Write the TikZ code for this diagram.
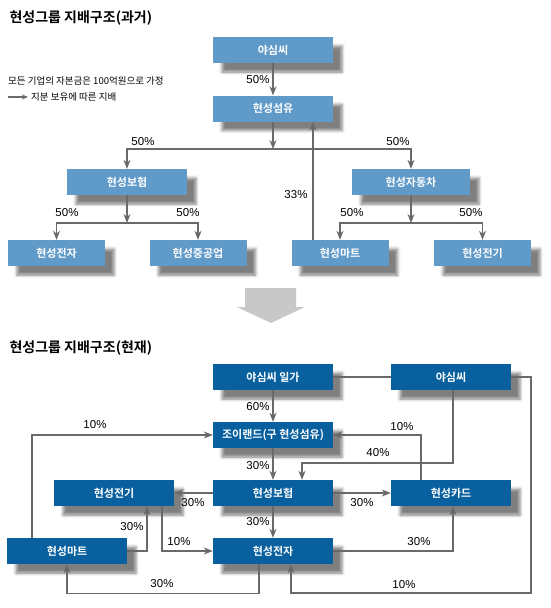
\documentclass[tikz,border=0pt]{standalone}
\usepackage{fontspec}
\setmainfont{Noto Sans CJK KR}[BoldFont={Noto Sans CJK KR Bold}]
\newfontfamily\numfont{Liberation Sans}
\usepackage{tikz}
\usetikzlibrary{arrows.meta, calc, positioning, shadows.blur}
\definecolor{oldblue}{RGB}{96,154,201}
\definecolor{newblue}{RGB}{8,96,158}
\definecolor{linegray}{RGB}{105,105,105}
\definecolor{bigarrowgray}{RGB}{200,200,200}

\begin{document}
\begin{tikzpicture}[x=1pt, y=-1pt,
    box/.style={rectangle, minimum height=26pt, inner sep=0pt, text=white,
        font=\bfseries\fontsize{11}{13}\selectfont,
        blur shadow={shadow xshift=9pt, shadow yshift=-9pt, shadow blur radius=3pt, shadow opacity=50}},
    oldbox/.style={box, fill=oldblue},
    newbox/.style={box, fill=newblue, minimum width=120pt},
    arr/.style={draw=linegray, line width=1.2pt, -{Stealth[length=9pt, width=7pt]}},
    con/.style={draw=linegray, line width=1.2pt},
    pct/.style={font=\numfont\fontsize{11.5}{13}\selectfont, inner sep=0pt}]
    \useasboundingbox (0,0) rectangle (550,608);

    % 标题 (过去)
    \node[anchor=west, font=\bfseries\fontsize{14}{16}\selectfont] (t1) at (6,18) {현성그룹 지배구조(과거)};

    % 说明
    \node[anchor=west, inner sep=0pt, font=\fontsize{9.5}{11}\selectfont] (n1) at (8,81) {모든 기업의 자본금은 100억원으로 가정};
    \coordinate (lg1) at (8,97);
    \coordinate (lg2) at (28,97);
    \draw[arr, -{Stealth[length=6pt, width=5pt]}] (lg1) -- (lg2);
    \node[anchor=west, inner sep=0pt, font=\fontsize{9.5}{11}\selectfont] (n2) at (31,97) {지분 보유에 따른 지배};

    % 过去的公司
    \node[oldbox, minimum width=120pt] (ys) at (273,50) {야심씨};
    \node[oldbox, minimum width=120pt] (hs) at (273,108.5) {현성섬유};
    \node[oldbox, minimum width=120pt] (hb) at (127,182) {현성보험};
    \node[oldbox, minimum width=118pt] (ha) at (411,182) {현성자동차};
    \node[oldbox, minimum width=97pt] (he) at (56.5,253) {현성전자};
    \node[oldbox, minimum width=97pt] (hh) at (198,253) {현성중공업};
    \node[oldbox, minimum width=97pt] (hm) at (340,253) {현성마트};
    \node[oldbox, minimum width=97pt] (hg) at (482.5,253) {현성전기};

    % 连线 (过去)
    \coordinate (j1) at (273,149);
    \coordinate (j2) at (127,223);
    \coordinate (j3) at (411,223);
    \coordinate (m33) at ([xshift=-27pt]hm.north);
    \draw[arr] (ys) -- (hs);
    \draw[arr] (hs) -- (j1);
    \draw[arr] (j1) -| (hb.north);
    \draw[arr] (j1) -| (ha.north);
    \draw[arr] (hb) -- (j2);
    \draw[arr] (j2) -| (he.north);
    \draw[arr] (j2) -| (hh.north);
    \draw[arr] (ha) -- (j3);
    \draw[arr] (j3) -| (hm.north);
    \draw[arr] (j3) -| (hg.north);
    \draw[arr] (m33) -- (m33 |- hs.south);

    % 比例 (过去)
    \node[pct] (p1) at (258,80) {50\%};
    \node[pct] (p2) at (143,142) {50\%};
    \node[pct] (p3) at (398,142) {50\%};
    \node[pct] (p4) at (67,213) {50\%};
    \node[pct] (p5) at (188,213) {50\%};
    \node[pct] (p6) at (352,213) {50\%};
    \node[pct] (p7) at (471,213) {50\%};
    \node[pct] (p8) at (296,195) {33\%};

    % 大箭头
    \fill[bigarrowgray] (245,288) -- (296,288) -- (296,307) -- (305,307) -- (271,323) -- (237,307) -- (245,307) -- cycle;

    % 标题 (现在)
    \node[anchor=west, font=\bfseries\fontsize{14}{16}\selectfont] (t2) at (6,348) {현성그룹 지배구조(현재)};

    % 现在的公司
    \node[newbox] (ga) at (273,377) {야심씨 일가};
    \node[newbox] (ya) at (451,377) {야심씨};
    \node[newbox] (joy) at (273,435) {조이랜드(구 현성섬유)};
    \node[newbox] (bo) at (273,493) {현성보험};
    \node[newbox] (el) at (114,493) {현성전기};
    \node[newbox] (card) at (451,493) {현성카드};
    \node[newbox] (jz) at (273,551) {현성전자};
    \node[newbox] (mart) at (67,551) {현성마트};

    % 连线 (现在)
    \coordinate (c1) at (531,593);
    \coordinate (c2) at (453,463);
    \draw[con] (ga) -- (ya);
    \draw[arr] (ga) -- (joy);
    \draw[arr] (joy) -- (bo);
    \draw[arr] (bo) -- (jz);
    \draw[arr] (bo) -- (el);
    \draw[arr] (bo) -- (card);
    \draw[arr] (ya.east) -| (c1) -| ([xshift=18pt]jz.south);
    \draw[arr] ([xshift=2pt]ya.south) -- (c2) -| ([xshift=29pt]bo.north);
    \draw[arr] ([xshift=-30pt]card.north) |- (joy.east);
    \draw[arr] ([xshift=-35pt]mart.north) |- (joy.west);
    \draw[arr] (mart.east) -| ([xshift=33pt]el.south);
    \draw[arr] ([xshift=48pt]el.south) |- (jz.west);
    \draw[arr] ([xshift=-14pt]jz.south) -- ++(0,29) -| (mart.south);
    \draw[arr] (jz.east) -| ([xshift=2pt]card.south);

    % 比例 (现在)
    \node[pct] (q1) at (258,407) {60\%};
    \node[pct] (q2) at (95,425) {10\%};
    \node[pct] (q3) at (402,427) {10\%};
    \node[pct] (q4) at (378,453) {40\%};
    \node[pct] (q5) at (258,466) {30\%};
    \node[pct] (q6) at (193,503) {30\%};
    \node[pct] (q7) at (362,503) {30\%};
    \node[pct] (q8) at (258,522) {30\%};
    \node[pct] (q9) at (132,527) {30\%};
    \node[pct] (q10) at (179,542) {10\%};
    \node[pct] (q11) at (419,542) {30\%};
    \node[pct] (q12) at (162,584) {30\%};
    \node[pct] (q13) at (404,585) {10\%};
\end{tikzpicture}
\end{document}
